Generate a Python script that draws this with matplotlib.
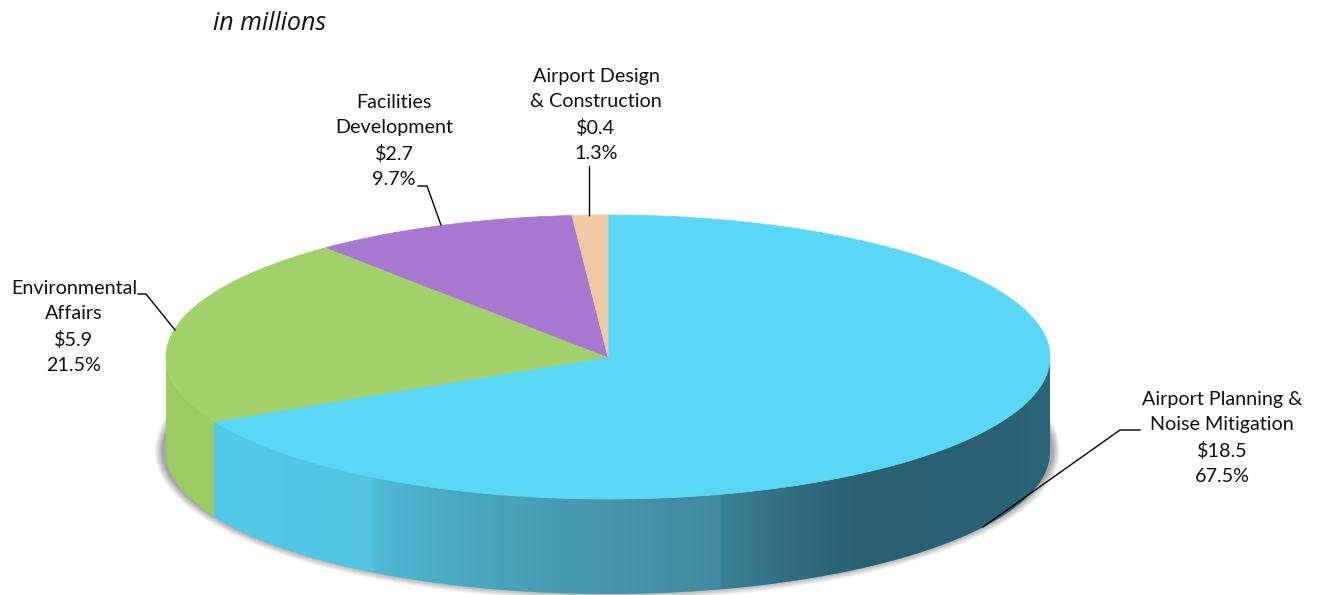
import matplotlib
matplotlib.use('Agg')
import matplotlib.pyplot as plt
from matplotlib.colors import LinearSegmentedColormap
from matplotlib.patches import PathPatch, Polygon
from matplotlib.path import Path
import numpy as np

plt.rcParams['font.family'] = ['Lato', 'DejaVu Sans']

shares = [67.5, 21.5, 9.7, 1.3]
amounts = ['$18.5', '$5.9', '$2.7', '$0.4']
names = ['Airport Planning &\nNoise Mitigation', 'Environmental\nAffairs',
         'Facilities\nDevelopment', 'Airport Design\n& Construction']
top_colors = ['#5AD7F5', '#A2D16C', '#A878D0', '#EFC8A4']
side_colors = ['#4FC4E2', '#9BCB64', '#8A60AC', '#C8A685']

# pie geometry in pixels
cx, cy = 608, 357
rx, ry = 442, 142
depth = 95


def rim(t):
    t = np.radians(t)
    return cx + rx * np.sin(t), cy - ry * np.cos(t)


def wall_path(t0, t1):
    ts = np.linspace(t0, t1, 200)
    x, y = rim(ts)
    xs = np.concatenate([x, x[::-1]])
    ys = np.concatenate([y, (y + depth)[::-1]])
    return Path(np.column_stack([xs, ys]), closed=False)


fig = plt.figure(figsize=(13.18, 5.95), dpi=100)
ax = fig.add_axes([0, 0, 1, 1])
ax.set_xlim(0, 1318)
ax.set_ylim(595, 0)
ax.axis('off')

# soft shadow behind the pie
yy, xx = np.mgrid[380:595, 130:1090]
sx, sy, srx, sry = 607, 450, 449, 146
u, v = (xx - sx) / srx, (yy - sy) / sry
r = np.sqrt(u ** 2 + v ** 2)
grad = np.sqrt((u / srx) ** 2 + (v / sry) ** 2) / r
dist = (r - 1) / grad
alpha = np.clip(0.5 * (0.5 - dist / 8), 0, 0.5)
shadow = np.zeros(xx.shape + (4,))
shadow[..., :3] = 0.3
shadow[..., 3] = alpha
ax.imshow(shadow, extent=[130, 1090, 595, 380], aspect='auto', zorder=1)

# cumulative angles, clockwise from the top
edges = np.concatenate([[0], np.cumsum(shares)]) / 100 * 360

# front wall, only the part of each slice facing the viewer
for i in range(len(shares)):
    t0 = max(edges[i], 90)
    t1 = min(edges[i + 1], 270)
    if t0 >= t1:
        continue
    p = PathPatch(wall_path(t0, t1), fc=side_colors[i], ec='none', zorder=2)
    ax.add_patch(p)
    if i == 0:
        # darkening towards the right of the blue wall
        stops = [(215, '#52CBE9'), (372, '#50C4E1'), (374, '#4FBAD5'), (460, '#4AA8C2'),
                 (600, '#4896AE'), (720, '#3F8A9E'), (723, '#3A8094'), (800, '#2F6B7F'),
                 (860, '#2A6072'), (1000, '#2A6174'), (1050, '#2B6678')]
        x0, x1 = stops[0][0], stops[-1][0]
        cmap = LinearSegmentedColormap.from_list(
            'wall', [((s - x0) / (x1 - x0), c) for s, c in stops], N=1024)
        im = ax.imshow(np.linspace(0, 1, 1024)[None, :], cmap=cmap, aspect='auto',
                       extent=[x0, x1, 595, 300], zorder=2.1)
        im.set_clip_path(p)

# top face
for i in range(len(shares)):
    x, y = rim(np.linspace(edges[i], edges[i + 1], 300))
    pts = np.column_stack([np.r_[cx, x], np.r_[cy, y]])
    ax.add_patch(Polygon(pts, closed=True, fc=top_colors[i], ec=top_colors[i], lw=0.5, zorder=3))

# labels and leader lines
label_pos = [(1222, 438), (74, 327), (394, 141), (596, 115)]
leaders = [([983, 1120, 1140], [527, 430, 430]),
           ([175, 146, 138], [330, 294, 294]),
           ([441, 427, 418], [225, 186, 186]),
           ([589, 589], [215, 166])]
for i in range(len(shares)):
    s = names[i] + '\n' + amounts[i] + '\n' + f'{shares[i]}%'
    ax.text(label_pos[i][0], label_pos[i][1], s, ha='center', va='center',
            fontsize=14.2, color='#111111', linespacing=1.57, zorder=5)
    ax.plot(leaders[i][0], leaders[i][1], color='black', lw=1, zorder=4)

ax.text(213, 23, 'in millions', style='italic', fontsize=18, color='#111111',
        ha='left', va='center', family=['Open Sans', 'DejaVu Sans'])

fig.savefig('out.png', dpi=100)
